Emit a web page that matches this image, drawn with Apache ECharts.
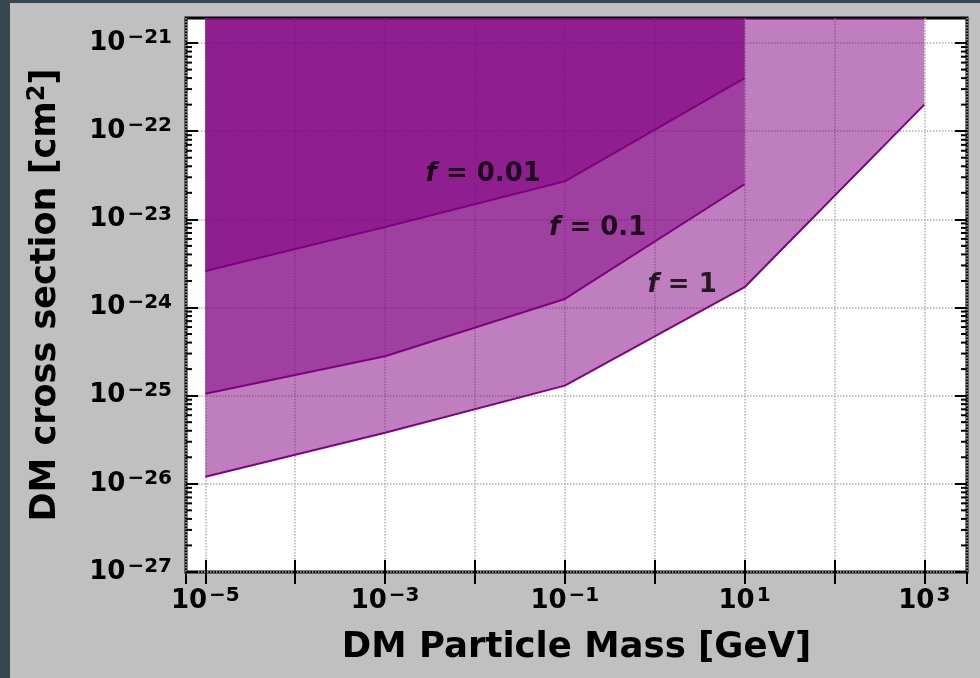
<!DOCTYPE html>
<html>
<head>
<meta charset="utf-8">
<script src="https://cdn.jsdelivr.net/npm/echarts@6/dist/echarts.min.js"></script>
<style>
  html, body { margin: 0; padding: 0; background: #37474f; }
  #chart { position: absolute; left: 10px; top: 3px; width: 970px; height: 675px; background: #c0c0c0; }
</style>
</head>
<body>
<div id="chart"></div>
<script>
// masses in GeV, cross sections in cm^2
const massGeV = [1e-5, 1e-3, 1e-1, 10, 1e3]
const sigmaF1 = [1.2e-26, 3.8e-26, 1.3e-25, 1.7e-24, 2.0e-22]
const sigmaF01 = [1.05e-25, 2.8e-25, 1.25e-24, 2.5e-23]
const sigmaF001 = [2.6e-24, 8.2e-24, 2.7e-23, 4.0e-22]
const fNames = ['0.01', '0.1', '1']
const fLabelMass = [0.01236, 0.232, 2.02]
const fLabelSigma = [3.27e-23, 7.98e-24, 1.8e-24]
// axis extents as powers of ten (bottom a hair under 1e-27 so that tick keeps its label)
const xLogRange = [-5.215, 3.475]
const yLogRange = [-27.0005, -20.716]

const font = 'DejaVu Sans'
const purple = '#800080'
const fill = 'rgba(128,0,128,0.5)'
const xMin = Math.pow(10, xLogRange[0])
const xMax = Math.pow(10, xLogRange[1])
const yMin = Math.pow(10, yLogRange[0])
const yMax = Math.pow(10, yLogRange[1])

function pairs(xs, ys) {
  return ys.map(function (y, i) { return [xs[i], y] })
}

function powLabel(v, onlyOdd) {
  if (!(v > 0)) return ''
  let e = Math.log10(v)
  let r = Math.round(e)
  if (!isFinite(e) || Math.abs(e - r) > 1e-6) return ''
  if (onlyOdd && Math.abs(r) % 2 !== 1) return ''
  let sup = r < 0 ? '\u2212' + (-r) : '' + r
  return '{b|10}{s|' + sup + '}'
}

const labelRich = {
  b: { fontFamily: font, fontWeight: 'bold', fontSize: 26, lineHeight: 30, color: '#000' },
  s: { fontFamily: font, fontWeight: 'bold', fontSize: 20, verticalAlign: 'top', padding: [0, 0, 0, 2], color: '#000' }
}

// minor ticks 2..9 per decade on the y axis
let minorVals = []
for (let e = Math.ceil(yLogRange[0]); e < Math.ceil(yLogRange[1]); e++) {
  for (let k = 2; k <= 9; k++) {
    let v = k * Math.pow(10, e)
    if (v < yMax) minorVals.push([xMin, v])
  }
}

function baseX(pos, labels) {
  return {
    type: 'log', position: pos, min: xMin, max: xMax,
    axisLine: { show: false },
    axisTick: { show: true, inside: true, length: 12, interval: 0, lineStyle: { color: '#000', width: 2 } },
    axisLabel: labels ? {
      show: true, interval: 0, margin: 14, rich: labelRich,
      showMinLabel: false, showMaxLabel: false,
      formatter: function (v) { return powLabel(v, true) }
    } : { show: false },
    splitLine: { show: labels, lineStyle: { color: '#b0b0b0', type: 'dotted', width: 1.5 } },
    minorTick: { show: false }
  }
}

function baseY(pos, labels) {
  return {
    type: 'log', position: pos, min: yMin, max: yMax,
    axisLine: { show: false },
    axisTick: { show: true, inside: true, length: 12, interval: 0, lineStyle: { color: '#000', width: 2 } },
    axisLabel: labels ? {
      show: true, interval: 0, margin: 14, rich: labelRich,
      showMinLabel: false, showMaxLabel: false,
      formatter: function (v) { return powLabel(v, false) }
    } : { show: false },
    splitLine: { show: labels, lineStyle: { color: '#b0b0b0', type: 'dotted', width: 1.5 } },
    minorTick: { show: false }
  }
}

let xBottom = baseX('bottom', true)
xBottom.name = 'DM Particle Mass [GeV]'
xBottom.nameLocation = 'middle'
xBottom.nameGap = 58
xBottom.nameMoveOverlap = false
xBottom.nameTextStyle = { fontFamily: font, fontWeight: 'bold', fontSize: 35.5, color: '#000' }

let yLeft = baseY('left', true)
yLeft.name = '{t|DM cross section [cm}{s|2}{t|]}'
yLeft.nameLocation = 'middle'
yLeft.nameGap = 120
yLeft.nameMoveOverlap = false
yLeft.nameTextStyle = {
  fontFamily: font, fontWeight: 'bold', fontSize: 35, color: '#000',
  rich: {
    t: { fontFamily: font, fontWeight: 'bold', fontSize: 35, lineHeight: 40, color: '#000' },
    s: { fontFamily: font, fontWeight: 'bold', fontSize: 24, verticalAlign: 'top', color: '#000' }
  }
}

function band(data) {
  return {
    type: 'line', data: data, symbol: 'none', silent: true,
    lineStyle: { color: purple, width: 2 },
    areaStyle: { color: fill, origin: yMax, opacity: 1 }
  }
}

const option = {
  animation: false,
  grid: {
    left: 176, right: 13, top: 15, bottom: 106,
    outerBoundsMode: 'none', containLabel: false,
    show: true, backgroundColor: '#fff', borderColor: '#000', borderWidth: 3
  },
  xAxis: [xBottom, baseX('top', false)],
  yAxis: [yLeft, baseY('right', false)],
  series: [
    band(pairs(massGeV, sigmaF1)),
    band(pairs(massGeV, sigmaF01)),
    band(pairs(massGeV, sigmaF001)),
    {
      type: 'custom', silent: true, z: 5,
      data: minorVals,
      renderItem: function (params, api) {
        let v = api.value(1)
        let pl = api.coord([xMin, v])
        let pr = api.coord([xMax, v])
        let st = { stroke: '#000', lineWidth: 2 }
        return {
          type: 'group',
          children: [
            { type: 'line', shape: { x1: pl[0], y1: pl[1], x2: pl[0] + 6, y2: pl[1] }, style: st },
            { type: 'line', shape: { x1: pr[0] - 6, y1: pr[1], x2: pr[0], y2: pr[1] }, style: st }
          ]
        }
      }
    },
    {
      type: 'scatter', silent: true, symbolSize: 0, z: 6,
      data: pairs(fLabelMass, fLabelSigma),
      label: {
        show: true, position: 'inside',
        formatter: function (p) { return '{i|f}{n| = ' + fNames[p.dataIndex] + '}' },
        rich: {
          i: { fontFamily: font, fontWeight: 'bold', fontStyle: 'italic', fontSize: 26, color: '#000' },
          n: { fontFamily: font, fontWeight: 'bold', fontSize: 26, color: '#000' }
        }
      }
    }
  ]
}

const chart = echarts.init(document.getElementById('chart'))
chart.setOption(option)
</script>
</body>
</html>
